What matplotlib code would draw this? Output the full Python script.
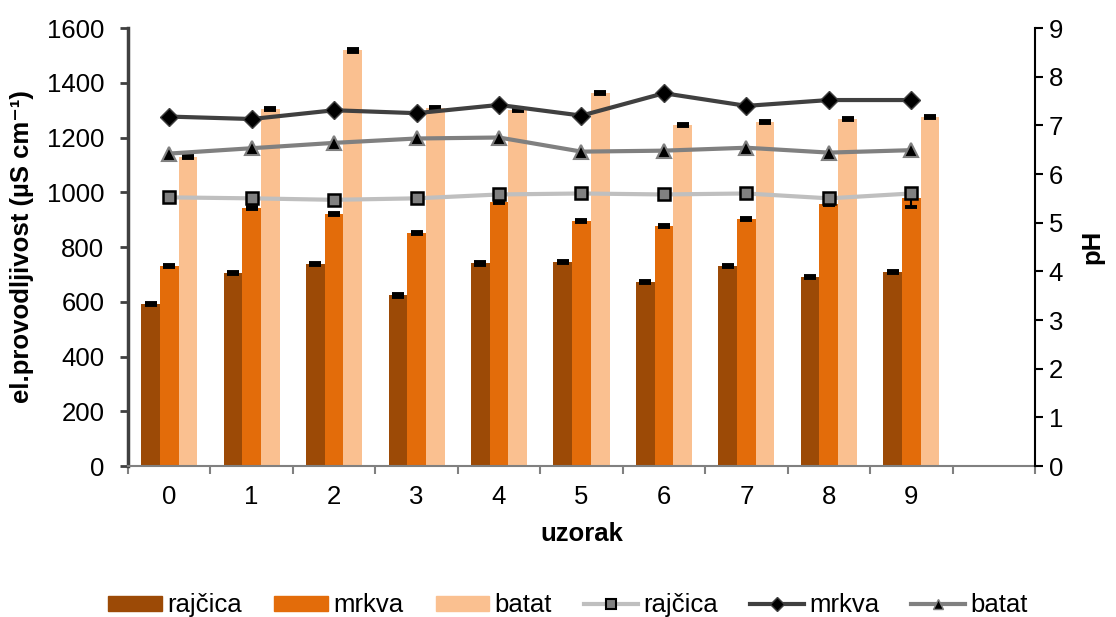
import numpy as np
import matplotlib.pyplot as plt
from matplotlib.patches import Patch
from matplotlib.lines import Line2D

plt.rcParams['font.family'] = ['Liberation Sans', 'DejaVu Sans']

# data
uzorak = ['0', '1', '2', '3', '4', '5', '6', '7', '8', '9']
ec_rajcica = [593, 704, 737, 623, 740, 746, 671, 732, 689, 708]
ec_mrkva = [732, 944, 922, 850, 966, 895, 877, 901, 957, 978]
ec_batat = [1130, 1303, 1518, 1307, 1300, 1364, 1247, 1257, 1267, 1275]
ec_rajcica_err = [4, 4, 4, 4, 4, 4, 4, 4, 4, 4]
ec_mrkva_err = [4, 4, 4, 4, 4, 4, 4, 4, 4, 30]
ec_batat_err = [4, 4, 4, 4, 4, 4, 4, 4, 4, 4]
ph_rajcica = [5.52, 5.50, 5.47, 5.50, 5.58, 5.60, 5.58, 5.60, 5.50, 5.60]
ph_mrkva = [7.18, 7.13, 7.31, 7.25, 7.42, 7.20, 7.66, 7.40, 7.52, 7.52]
ph_batat = [6.42, 6.53, 6.64, 6.73, 6.75, 6.46, 6.48, 6.54, 6.44, 6.49]

c_raj = '#9C4A06'
c_mrk = '#E36C0A'
c_bat = '#FAC090'

fs = 18.5
x = np.arange(len(uzorak))
w = 0.227

fig, ax = plt.subplots(figsize=(11.16, 6.17), dpi=100)
plt.subplots_adjust(left=0.1147, right=0.9274, top=0.9546, bottom=0.2447)

ekw = dict(ecolor='black', elinewidth=1.5, capsize=4.5, capthick=2.8)
ax.bar(x - w, ec_rajcica, w, color=c_raj, yerr=ec_rajcica_err, error_kw=ekw, zorder=2)
ax.bar(x, ec_mrkva, w, color=c_mrk, yerr=ec_mrkva_err, error_kw=ekw, zorder=2)
ax.bar(x + w, ec_batat, w, color=c_bat, yerr=ec_batat_err, error_kw=ekw, zorder=2)

ax.set_xlim(-0.5, 10.5)
ax.set_ylim(0, 1600)
ax.set_yticks(range(0, 1601, 200))
ax.set_xticks(x)
ax.set_xticklabels(uzorak)
ax.set_xticks(np.arange(-0.5, 10.6, 1), minor=True)
ax.tick_params(axis='x', which='major', length=0, pad=14, labelsize=fs)
ax.tick_params(axis='x', which='minor', length=6, color='#808080', width=1.5, direction='out')
ax.tick_params(axis='y', length=6, color='#404040', width=2, labelsize=fs, pad=11)
ax.spines['top'].set_visible(False)
ax.spines['right'].set_visible(False)
ax.spines['left'].set_color('#404040')
ax.spines['left'].set_linewidth(2.5)
ax.spines['bottom'].set_color('#808080')
ax.spines['bottom'].set_linewidth(1.5)
ax.set_xlabel('uzorak', fontsize=fs, fontweight='bold', labelpad=9)
ax.set_ylabel('el.provodljivost (µS cm⁻¹)', fontsize=fs, fontweight='bold', labelpad=9)

ax2 = ax.twinx()
ax2.set_ylim(0, 9)
ax2.set_yticks(range(0, 10))
ax2.plot(x, ph_rajcica, color='#BFBFBF', lw=3, marker='s', ms=9,
         mfc='#808080', mec='black', mew=1.8, zorder=3)
ax2.plot(x, ph_mrkva, color='#404040', lw=3, marker='D', ms=9,
         mfc='black', mec='#404040', mew=1, zorder=3)
ax2.plot(x, ph_batat, color='#808080', lw=3, marker='^', ms=10,
         mfc='black', mec='#808080', mew=1.5, zorder=3)
for s in ['top', 'left', 'bottom']:
    ax2.spines[s].set_visible(False)
ax2.spines['right'].set_color('black')
ax2.spines['right'].set_linewidth(1.5)
ax2.tick_params(axis='y', length=6, width=1.5, labelsize=fs, pad=4)
ax2.set_ylabel('pH', fontsize=fs, fontweight='bold', rotation=90, labelpad=12)

handles = [
    Patch(color=c_raj), Patch(color=c_mrk), Patch(color=c_bat),
    Line2D([], [], color='#BFBFBF', lw=3, marker='s', ms=7, mfc='#808080', mec='black', mew=1.5),
    Line2D([], [], color='#404040', lw=3, marker='D', ms=7, mfc='black', mec='#404040'),
    Line2D([], [], color='#808080', lw=3, marker='^', ms=7, mfc='black', mec='#808080'),
]
labels = ['rajčica', 'mrkva', 'batat', 'rajčica', 'mrkva', 'batat']
fig.legend(handles, labels, loc='lower center', bbox_to_anchor=(0.509, -0.038), ncol=6,
           frameon=False, fontsize=fs, handlelength=2.1, handleheight=0.5,
           handletextpad=0.2, columnspacing=1.25)

fig.savefig('out.png', dpi=100)
